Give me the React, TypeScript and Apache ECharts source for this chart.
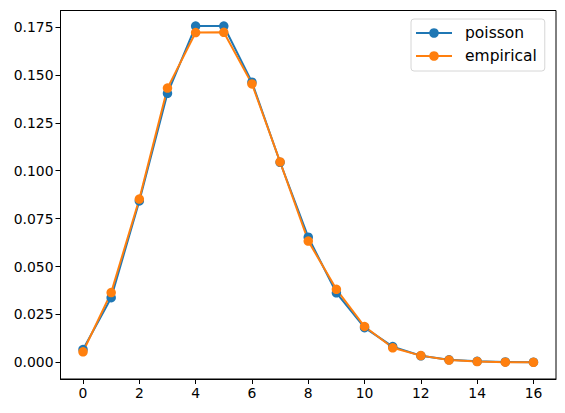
import React, { useEffect, useRef } from "react";
import * as echarts from "echarts";

const ks = [0, 1, 2, 3, 4, 5, 6, 7, 8, 9, 10, 11, 12, 13, 14, 15, 16];
const poisson = [0.0067, 0.0337, 0.0842, 0.1404, 0.1755, 0.1755, 0.1462, 0.1044, 0.0653, 0.0363, 0.0181, 0.0082, 0.0034, 0.0013, 0.0005, 0.0002, 0.0001];
const empirical = [0.0055, 0.0364, 0.0852, 0.1431, 0.1721, 0.1722, 0.1453, 0.1046, 0.0633, 0.0381, 0.0187, 0.0076, 0.0035, 0.0012, 0.0004, 0.0001, 0.0000];
const xTicks = [0, 2, 4, 6, 8, 10, 12, 14, 16];
const yTicks = [0, 0.025, 0.05, 0.075, 0.1, 0.125, 0.15, 0.175];

const FONT = "DejaVu Sans";

export default function App() {
  const ref = useRef<HTMLDivElement>(null);
  useEffect(() => {
    if (!ref.current) return;
    const chart = echarts.init(ref.current, null, { renderer: "svg" });
    const mk = (name: string, vals: number[], color: string) => ({
      name,
      type: "line",
      data: ks.map((k, i) => [k, vals[i]]),
      symbol: "circle",
      symbolSize: 9.5,
      showSymbol: true,
      lineStyle: { color, width: 2 },
      itemStyle: { color },
      emphasis: { disabled: true },
    });
    chart.setOption({
      animation: false,
      backgroundColor: "#fff",
      grid: {
        left: 60.5,
        top: 10.5,
        right: 9,
        bottom: 34,
        show: true,
        borderColor: "#000",
        borderWidth: 1,
      },
      legend: {
        left: 411,
        top: 19,
        orient: "vertical",
        data: ["poisson", "empirical"],
        itemWidth: 36,
        itemHeight: 12,
        itemGap: 7,
        padding: [6, 8, 7, 4],
        borderColor: "#d6d6d6",
        borderWidth: 1,
        borderRadius: 3,
        backgroundColor: "rgba(255,255,255,0.8)",
        textStyle: { fontFamily: FONT, fontSize: 15.5, color: "#000", padding: [0, 0, 0, 8] },
      },
      xAxis: {
        type: "value",
        min: -0.8,
        max: 16.8,
        splitLine: { show: false },
        axisLine: { show: true, onZero: false, lineStyle: { color: "#000", width: 1 } },
        axisTick: { show: true, length: 5, customValues: xTicks, lineStyle: { color: "#000", width: 1 } },
        axisLabel: {
          customValues: xTicks,
          fontFamily: FONT,
          fontSize: 13.9,
          color: "#000",
          margin: 7,
        },
      },
      yAxis: {
        type: "value",
        min: -0.0087,
        max: 0.1836,
        splitLine: { show: false },
        axisLine: { show: true, onZero: false, lineStyle: { color: "#000", width: 1 } },
        axisTick: { show: true, length: 5, customValues: yTicks, lineStyle: { color: "#000", width: 1 } },
        axisLabel: {
          customValues: yTicks,
          fontFamily: FONT,
          fontSize: 13.9,
          color: "#000",
          margin: 7,
          formatter: (v: number) => v.toFixed(3),
        },
      },
      series: [mk("poisson", poisson, "#1f77b4"), mk("empirical", empirical, "#ff7f0e")],
    });
    return () => chart.dispose();
  }, []);
  return <div ref={ref} style={{ width: 565, height: 413, position: "absolute", left: 0, top: 0 }} />;
}
